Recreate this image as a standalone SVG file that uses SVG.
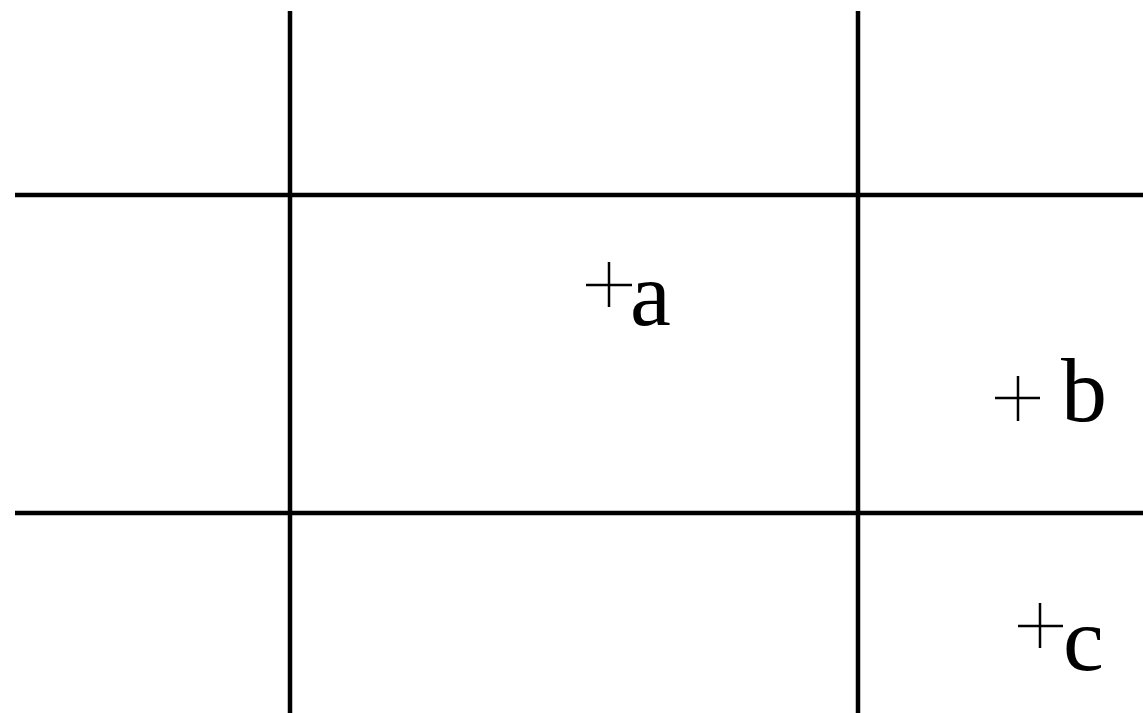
<svg xmlns="http://www.w3.org/2000/svg" width="1143" height="713" viewBox="0 0 1143 713">
<style>
.grid line{stroke:#000;stroke-width:4.5}
.mark line{stroke:#000;stroke-width:2.5}
.lbl{font-family:"Liberation Serif","Times New Roman",serif;font-size:92px;fill:#000}
</style>
<rect width="1143" height="713" fill="#fff"/>
<g id="connectors" class="grid">
<line x1="290" y1="11" x2="290" y2="713"/>
<line x1="858" y1="11" x2="858" y2="713"/>
<line x1="15" y1="195" x2="1143" y2="195"/>
<line x1="15" y1="513" x2="1143" y2="513"/>
</g>
<g id="node-a" class="mark">
<line x1="586" y1="285" x2="632" y2="285"/>
<line x1="609" y1="262" x2="609" y2="307"/>
<text class="lbl" x="630" y="325">a</text>
</g>
<g id="node-b" class="mark">
<line x1="995" y1="398" x2="1040" y2="398"/>
<line x1="1018" y1="376" x2="1018" y2="421"/>
<text class="lbl" x="1061" y="421">b</text>
</g>
<g id="node-c" class="mark">
<line x1="1018" y1="626" x2="1063" y2="626"/>
<line x1="1040" y1="603" x2="1040" y2="648"/>
<text class="lbl" x="1063" y="670">c</text>
</g>
</svg>
